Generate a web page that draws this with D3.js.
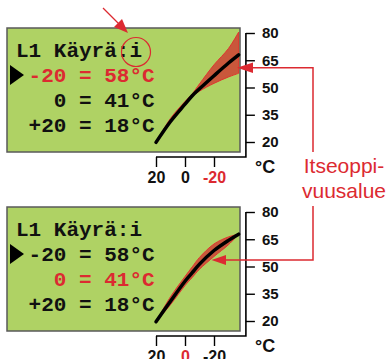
<!DOCTYPE html>
<html>
<head>
<meta charset="utf-8">
<script src="https://d3js.org/d3.v7.min.js"></script>
<style>
  body { margin: 0; background: #fff; }
  svg { display: block; }
</style>
</head>
<body>
<svg width="388" height="359"></svg>
<script>
    // outdoor temperature grid (°C) used for every curve
    const outdoorTemps = [20, 10, 0, -5, -10, -20, -30, -37];

    // top panel: heating curve and its self-learning band
    const topCurve = [19.8, 31.3, 40.8, 45.5, 49.3, 56.5, 63.5, 68];
    const topUpper = [19.8, 33, 42.3, 46.5, 52, 62.5, 71.5, 80.5];
    const topLower = [19.8, 30.6, 40.2, 45, 48, 52.3, 55.8, 57.8];

    // bottom panel
    const bottomCurve = [19.6, 30.9, 41.9, 46.6, 51.3, 58.8, 64.4, 67.8];
    const bottomUpper = [19.6, 33.3, 44.5, 49.8, 55, 62.4, 66.3, 67.8];
    const bottomLower = [19.6, 29, 39.5, 44, 48.5, 55.5, 62, 67.8];

    const lcdLines = ["L1 Käyrä:i", " -20 = 58°C", "   0 = 41°C", " +20 = 18°C"];
    const supplyTicks = [20, 35, 50, 65, 80];
    const supplyMinorTicks = [25, 30, 40, 45, 55, 60, 70, 75];
    const outdoorTicks = [20, 0, -20];
    const outdoorMinorTicks = [10, -10, -30];
    const annotationLabel = ["Itseoppi-", "vuusalue"];

    const panels = [
        {dy: 0, curve: topCurve, upper: topUpper, lower: topLower, redLine: 1, redTick: -20, circle: true},
        {dy: 179, curve: bottomCurve, upper: bottomUpper, lower: bottomLower, redLine: 2, redTick: 0, circle: false}
    ];

    const red = "#dc2a31";
    const ink = "#111";

    const svg = d3.select("svg");
    svg.append("rect").attr("width", 388).attr("height", 359).attr("fill", "#fff");

    const x = d3.scaleLinear().domain([20, -20]).range([156, 214]);
    const y = d3.scaleLinear().domain([20, 80]).range([142, 33]);
    const axisX = x(-42);
    const axisY = 157;

    const area = d3.area()
        .x(d => x(d.t))
        .y0(d => y(d.lo))
        .y1(d => y(d.hi))
        .curve(d3.curveCatmullRom);

    const line = d3.line()
        .x(d => x(d.t))
        .y(d => y(d.v))
        .curve(d3.curveCatmullRom);

    panels.forEach(p => {
        const g = svg.append("g").attr("transform", "translate(0," + p.dy + ")");

        // LCD box
        g.append("rect")
            .attr("x", 7).attr("y", 28)
            .attr("width", 233).attr("height", 124)
            .attr("fill", "#afd264")
            .attr("stroke", "#5a5a5a")
            .attr("stroke-width", 1.5);

        lcdLines.forEach((s, i) => {
            g.append("text")
                .attr("x", 16)
                .attr("y", 57 + i * 25)
                .attr("xml:space", "preserve")
                .style("white-space", "pre")
                .style("font-family", "'Liberation Mono', 'Courier New', monospace")
                .style("font-weight", "bold")
                .style("font-size", "21px")
                .attr("fill", i === p.redLine ? red : ink)
                .text(s);
        });

        // pointer triangle
        g.append("path")
            .attr("d", "M10,65 L24,75 L10,85 Z")
            .attr("fill", "#000");

        if (p.circle) {
            g.append("circle")
                .attr("cx", 136).attr("cy", 52).attr("r", 14.5)
                .attr("fill", "none")
                .attr("stroke", red)
                .attr("stroke-width", 1.2);
        }

        // band and curve
        const band = outdoorTemps.map((t, i) => ({t: t, lo: p.lower[i], hi: p.upper[i]}));
        g.append("path")
            .datum(band)
            .attr("d", area)
            .attr("fill", "#c9573b")
            .attr("stroke", "#e0352f")
            .attr("stroke-width", 1);

        const pts = outdoorTemps.map((t, i) => ({t: t, v: p.curve[i]}));
        g.append("path")
            .datum(pts)
            .attr("d", line)
            .attr("fill", "none")
            .attr("stroke", "#000")
            .attr("stroke-width", 3.5)
            .attr("stroke-linecap", "round");

        // axes bracket
        g.append("path")
            .attr("d", "M" + x(20) + "," + axisY + " H" + axisX + " V" + y(80))
            .attr("fill", "none")
            .attr("stroke", "#000")
            .attr("stroke-width", 1.6);

        const right = g.append("g").attr("transform", "translate(" + axisX + ",0)");
        right.call(d3.axisRight(y).tickValues(supplyMinorTicks).tickSize(6).tickFormat(""));
        right.call(d3.axisRight(y).tickValues(supplyTicks).tickSize(9).tickPadding(7));
        right.select(".domain").remove();
        right.selectAll("line").attr("stroke", "#000").attr("stroke-width", 1.4);
        right.selectAll("text")
            .style("font-family", "'Liberation Sans', Arial, sans-serif")
            .style("font-weight", "bold")
            .style("font-size", "15px")
            .attr("fill", ink);

        const bottom = g.append("g").attr("transform", "translate(0," + axisY + ")");
        bottom.call(d3.axisBottom(x).tickValues(outdoorMinorTicks).tickSize(6).tickFormat(""));
        bottom.call(d3.axisBottom(x).tickValues(outdoorTicks).tickSize(10).tickPadding(5)
            .tickFormat(d => d3.format("d")(d).replace("−", "-")));
        bottom.select(".domain").remove();
        bottom.selectAll("line").attr("stroke", "#000").attr("stroke-width", 1.4);
        bottom.selectAll(".tick text")
            .style("font-family", "'Liberation Sans', Arial, sans-serif")
            .style("font-weight", "bold")
            .style("font-size", "16px")
            .attr("fill", d => d === p.redTick ? red : ink);

        g.append("text")
            .attr("x", 255).attr("y", 173)
            .style("font-family", "'Liberation Sans', Arial, sans-serif")
            .style("font-weight", "bold")
            .style("font-size", "18px")
            .attr("fill", ink)
            .text("°C");
    });

    // annotation: arrow to ":i"
    svg.append("line")
        .attr("x1", 103).attr("y1", 8).attr("x2", 120).attr("y2", 25)
        .attr("stroke", red).attr("stroke-width", 1.3);
    svg.append("path")
        .attr("d", "M128,33 L114,27 L122,19 Z")
        .attr("fill", red);

    // annotation: self-learning area label
    annotationLabel.forEach((s, i) => {
        svg.append("text")
            .attr("x", 344).attr("y", 173 + i * 25)
            .attr("text-anchor", "middle")
            .style("font-family", "'Liberation Sans', Arial, sans-serif")
            .style("font-size", "21px")
            .attr("fill", red)
            .text(s);
    });

    svg.append("path")
        .attr("d", "M313,152 V67.7 H252")
        .attr("fill", "none").attr("stroke", red).attr("stroke-width", 1.5);
    svg.append("path")
        .attr("d", "M237,67.7 L253,62.5 L253,73 Z")
        .attr("fill", red);

    svg.append("path")
        .attr("d", "M313,206 V260 H224")
        .attr("fill", "none").attr("stroke", red).attr("stroke-width", 1.5);
    svg.append("path")
        .attr("d", "M211.5,260 L226,255 L226,265 Z")
        .attr("fill", red);
</script>
</body>
</html>
